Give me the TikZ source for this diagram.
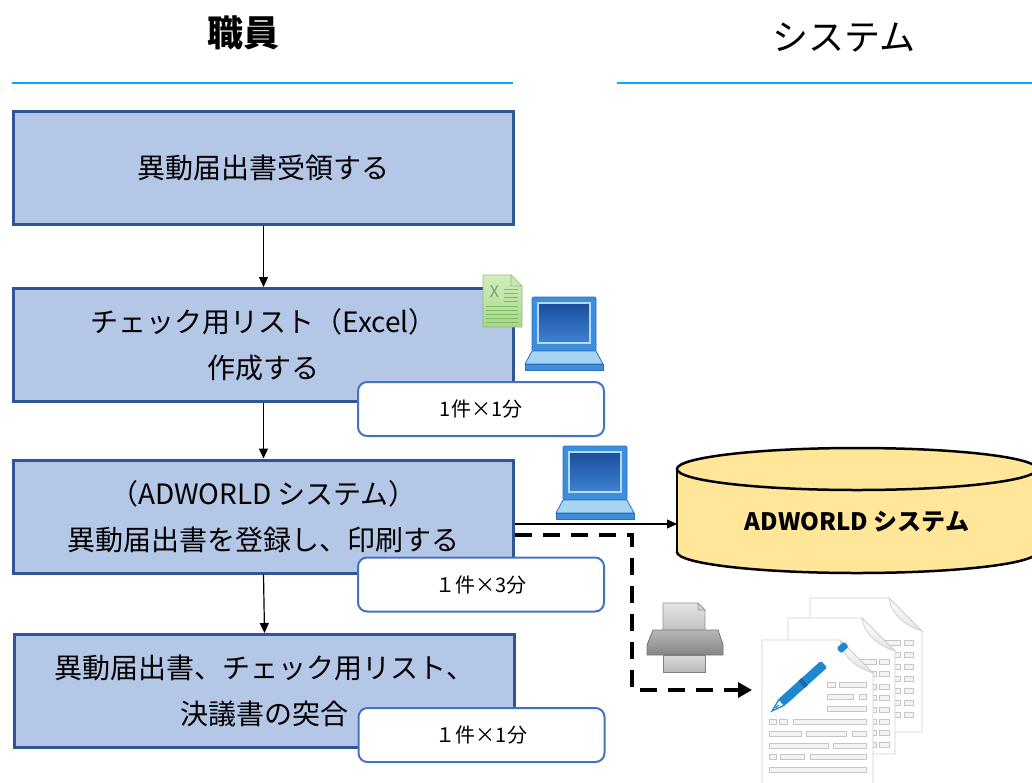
\documentclass[tikz,border=0pt]{standalone}
\usepackage{fontspec}
\setmainfont{Noto Sans CJK JP}
\usetikzlibrary{arrows.meta,calc}

\definecolor{boxfill}{HTML}{B4C7E7}
\definecolor{boxline}{HTML}{2F5597}
\definecolor{timeline}{HTML}{4472C4}
\definecolor{rule}{HTML}{00B0F0}
\definecolor{dbfill}{HTML}{FFE699}
\definecolor{lapblue}{HTML}{3D8FDC}
\definecolor{lapedge}{HTML}{2A6FBE}
\definecolor{lapdark}{HTML}{1B4F9C}
\definecolor{lapmid}{HTML}{3E82D2}
\definecolor{laprim}{HTML}{B5DBF7}
\definecolor{lapbase}{HTML}{A8D4F4}
\definecolor{xlgreen}{HTML}{A6D78A}
\definecolor{xlhi}{HTML}{D2EEBE}
\definecolor{xledge}{HTML}{8DBF72}
\definecolor{xlfold}{HTML}{C9E6B3}
\definecolor{xlx}{HTML}{7A9F6E}
\definecolor{xlrow}{HTML}{7DBA63}
\definecolor{pagegray}{HTML}{CFCFCF}
\definecolor{rowgray}{HTML}{C6C6C6}
\definecolor{rowfill}{HTML}{F3F3F3}
\definecolor{flapgray}{HTML}{E4E4E4}
\definecolor{penblue}{HTML}{1E87D0}
\definecolor{pendark}{HTML}{156AA8}

\tikzset{
  stepbox/.style={draw=boxline, line width=3pt, fill=boxfill, minimum width=500pt,
    minimum height=113pt, inner sep=0pt, align=center, font=\fontsize{28}{46}\selectfont},
  timebox/.style={draw=timeline, line width=2pt, fill=white, rounded corners=9pt,
    minimum width=246pt, minimum height=54pt, inner sep=0pt, font=\fontsize{20}{24}\selectfont},
  flow/.style={line width=1.2pt, -{Triangle[length=10pt,width=9pt]}},
  printflow/.style={line width=4pt, dash pattern=on 17pt off 11pt, -{Triangle[length=14pt,width=15pt]}},
  lane/.style={draw=rule, line width=2pt},
  head/.style={font=\fontsize{36}{40}\selectfont},
  rowbox/.style={draw=rowgray, fill=rowfill, line width=0.6pt},
  laptop/.pic={
    \filldraw[fill=lapblue, draw=lapedge, line width=0.8pt, rounded corners=1.5pt] (0,0) rectangle (64,54);
    \shadedraw[top color=lapdark, bottom color=lapmid, draw=laprim, line width=1.2pt] (6,6) rectangle (58,46);
    \filldraw[fill=lapbase, draw=lapedge, line width=0.8pt] (0,54) -- (64,54) -- (71,67) -- (-7,67) -- cycle;
    \filldraw[fill=lapblue, draw=lapedge, line width=0.8pt] (-7,67) rectangle (71,73);
  },
}

% one sheet of paper with a curled top-right corner: x, y, width, height
\newcommand\docsheet[4]{%
  \filldraw[fill=white, draw=pagegray, line width=0.8pt]
    (#1,#2) -- (#1+#3-33,#2) -- (#1+#3,#2+33) -- (#1+#3,#2+#4) -- (#1,#2+#4) -- cycle;
}
\newcommand\docflap[4]{%
  \shadedraw[top color=white, bottom color=flapgray, draw=pagegray, line width=0.8pt]
    (#1+#3-33,#2) -- (#1+#3,#2+33) .. controls (#1+#3-12,#2+29) and (#1+#3-30,#2+20) .. cycle;
}

\begin{document}
\begin{tikzpicture}[x=1pt,y=-1pt]
\useasboundingbox (0,0) rectangle (1032,782);

% lane headers
\node[head, font=\fontsize{36}{40}\selectfont\bfseries] (staff) at (243,33) {職員};
\node[head] (sys) at (844,38) {システム};
\draw[lane] (12,83) -- (513,83);
\draw[lane] (617,83) -- (1032,83);

% process steps
\node[stepbox] (b1) at (263.5,168) {異動届出書受領する};
\node[stepbox] (b2) at (263.5,345) {チェック用リスト（Excel）\\作成する};
\node[stepbox] (b3) at (263.5,516.5) {（ADWORLD システム）\\異動届出書を登録し、印刷する};
\node[stepbox] (b4) at (264.5,691) {異動届出書、チェック用リスト、\\決議書の突合};

\draw[flow] (b1.south) -- (b2.north);
\draw[flow] (b2.south) -- (b3.north);
\draw[flow] (b3.south) -- (b4.north);

% database cylinder
\begin{scope}[line width=2.5pt]
  \filldraw[fill=dbfill] (857,552) ellipse [x radius=180, y radius=21];
  \fill[dbfill] (677,469) rectangle (1037,552);
  \draw (677,469) -- (677,552);
  \draw (1037,469) -- (1037,552);
  \filldraw[fill=dbfill] (857,469) ellipse [x radius=180, y radius=21];
\end{scope}
\node[font=\fontsize{24}{28}\selectfont\bfseries] (db) at (857,522) {ADWORLD システム};
\coordinate (dbin) at (677,524);
\coordinate (docin) at (752,690);

\draw[flow] ([yshift=-7.5pt]b3.east) -- (dbin);
\draw[printflow] ([yshift=-18.5pt]b3.east) -- ++(117,0) |- (docin);

% spreadsheet icon
\begin{scope}[shift={(483,275)}]
  \shadedraw[top color=xlhi, bottom color=xlgreen, draw=xledge, line width=0.6pt]
    (0,0) -- (28,0) -- (39,11) -- (39,52) -- (0,52) -- cycle;
  \filldraw[fill=xlfold, draw=xledge, line width=0.6pt] (28,0) -- (28,11) -- (39,11) -- cycle;
  \node[text=xlx, font=\fontsize{16}{16}\selectfont, inner sep=0pt] (xlmark) at (11.5,16.5) {X};
  \foreach \yy in {14,18,22,26} \draw[xlrow, line width=0.8pt] (21,\yy) -- (35,\yy);
  \foreach \yy in {31,35,39,43,47} \draw[xlrow, line width=0.8pt] (3,\yy) -- (35,\yy);
\end{scope}

% computers
\pic at (532,297) {laptop};
\pic at (563,446) {laptop};

% printer
\begin{scope}[shift={(648,601)}]
  \shadedraw[top color=black!10, bottom color=black!25, draw=black!42, line width=0.8pt]
    (15,2) -- (50,2) -- (57,9) -- (57,30) -- (15,30) -- cycle;
  \filldraw[fill=black!18, draw=black!42, line width=0.6pt] (50,2) -- (50,9) -- (57,9) -- cycle;
  \shadedraw[top color=black!28, bottom color=black!48, draw=black!55, line width=0.8pt]
    (5,29) -- (70,29) -- (75,44) -- (75,54) -- (-1,54) -- (-1,44) -- cycle;
  \shadedraw[top color=black!14, bottom color=black!28, draw=black!50, line width=0.8pt]
    (15,54) rectangle (57,71);
\end{scope}

% printed documents
\docsheet{810}{598}{112}{134}
\foreach \yy in {643,655,667,679,691,703,715} {
  \draw[rowbox] (885,\yy-2.5) rectangle (900,\yy+2.5);
  \draw[rowbox] (904,\yy-2.5) rectangle (913,\yy+2.5);
}
\docflap{810}{598}{112}{134}
\docsheet{788}{618}{107}{136}
\foreach \yy in {662,674,687,698,710,722,733,745} {
  \draw[rowbox] (860,\yy-2.5) rectangle (876,\yy+2.5);
  \draw[rowbox] (879,\yy-2.5) rectangle (889,\yy+2.5);
}
\docflap{788}{618}{107}{136}
\docsheet{762}{640}{111}{160}
\docflap{762}{640}{111}{160}
\foreach \ya/\yb/\yy in {827/835/685, 839/866/685, 827/853/697, 859/866/697, 827/866/709,
    769/776/722, 779/787/722, 793/866/722, 769/801/734, 806/846/734, 852/866/734,
    769/828/746, 833/866/746, 769/776/757, 780/804/757, 810/866/757, 769/866/770}
  \draw[rowbox] (\ya,\yy-2.5) rectangle (\yb,\yy+2.5);

% pen on the front sheet
\begin{scope}[shift={(772,711)}, rotate=42]
  \filldraw[fill=white, draw=penblue, line width=1.3pt] (0,0) -- (13,-4) -- (13,4) -- cycle;
  \fill[penblue] (4.5,-0.6) rectangle (9,0.6);
  \fill[penblue, rounded corners=1.5pt] (13,-4.6) rectangle (70,4.6);
  \fill[pendark] (40,-4.8) rectangle (44,4.8);
  \fill[penblue, rounded corners=1.5pt] (90,-3.5) rectangle (100,3.5);
\end{scope}

% time estimates
\node[timebox] (t1) at (481,409) {1件×1分};
\node[timebox] (t2) at (481,584.5) {１件×3分};
\node[timebox] (t3) at (481.5,735) {１件×1分};
\end{tikzpicture}
\end{document}
